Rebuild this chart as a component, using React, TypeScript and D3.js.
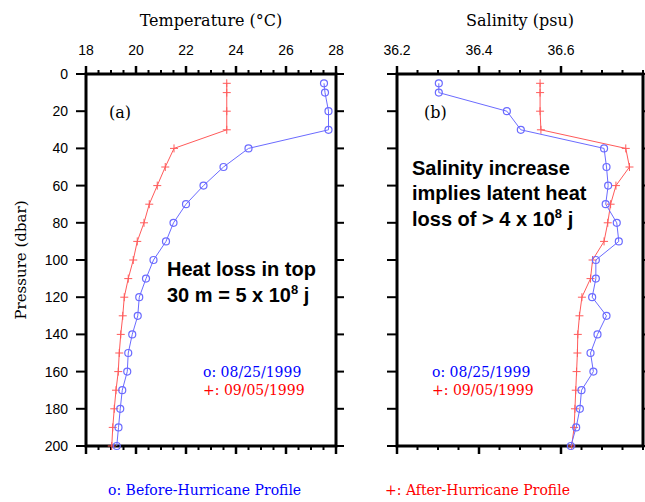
import React from 'react';
import * as d3 from 'd3';

// pressure levels (dbar)
const pressure = [5, 10, 20, 30, 40, 50, 60, 70, 80, 90, 100, 110, 120, 130, 140, 150, 160, 170, 180, 190, 200];

// temperature (deg C)
const tempBefore = [27.52, 27.56, 27.7, 27.7, 24.5, 23.5, 22.7, 22.0, 21.5, 21.2, 20.7, 20.4, 20.13, 20.07, 19.85, 19.69, 19.65, 19.45, 19.37, 19.3, 19.23];
const tempAfter = [23.63, 23.63, 23.63, 23.63, 21.52, 21.17, 20.85, 20.53, 20.32, 20.05, 19.89, 19.69, 19.53, 19.47, 19.39, 19.33, 19.29, 19.2, 19.13, 19.07, 19.03];

// salinity (psu)
const salBefore = [36.302, 36.302, 36.468, 36.502, 36.705, 36.711, 36.715, 36.709, 36.736, 36.741, 36.685, 36.685, 36.676, 36.711, 36.689, 36.672, 36.679, 36.65, 36.646, 36.637, 36.624];
const salAfter = [36.549, 36.549, 36.549, 36.551, 36.758, 36.767, 36.734, 36.721, 36.714, 36.705, 36.677, 36.672, 36.651, 36.645, 36.641, 36.64, 36.638, 36.636, 36.634, 36.632, 36.626];

const tempTicks = [18, 20, 22, 24, 26, 28];
const salTicks = [36.2, 36.4, 36.6];
const pressureTicks = [0, 20, 40, 60, 80, 100, 120, 140, 160, 180, 200];

const BLUE = '#0000ff';
const RED = '#ff0000';
const LBLUE = '#6b6bff';
const LRED = '#ff5a5a';
const serif = '"DejaVu Serif", serif';
const sans = '"Liberation Sans", Arial, sans-serif';

const yScale = d3.scaleLinear().domain([0, 200]).range([74, 446]);

type PanelProps = {
  xScale: d3.ScaleLinear<number, number>;
  majors: number[];
  minorStep: number;
  fmt: (v: number) => string;
  before: number[];
  after: number[];
  title: string;
  yLabels: boolean;
};

const Panel = ({ xScale, majors, minorStep, fmt, before, after, title, yLabels }: PanelProps) => {
  const [x0, x1] = xScale.range();
  const [d0, d1] = xScale.domain();
  const y0 = yScale(0);
  const y1 = yScale(200);
  const minors = d3.range(d0, d1 + minorStep / 2, minorStep);

  const line = (vals: number[]) =>
    d3.line<number>().x((v) => xScale(v)).y((_, i) => yScale(pressure[i]))(vals) || '';

  return (
    <g>
      {/* minor ticks top / bottom */}
      {minors.map((v, i) => (
        <g key={'m' + i} stroke="black" strokeWidth={2}>
          <line x1={xScale(v)} x2={xScale(v)} y1={y0} y2={y0 - 4} />
          <line x1={xScale(v)} x2={xScale(v)} y1={y1} y2={y1 + 4} />
        </g>
      ))}
      {majors.map((v) => (
        <g key={'M' + v}>
          <line x1={xScale(v)} x2={xScale(v)} y1={y0} y2={y0 - 8} stroke="black" strokeWidth={2.5} />
          <line x1={xScale(v)} x2={xScale(v)} y1={y1} y2={y1 + 8} stroke="black" strokeWidth={2.5} />
          <text x={xScale(v)} y={55} textAnchor="middle" fontFamily={sans} fontSize={14}>
            {fmt(v)}
          </text>
        </g>
      ))}
      {/* y ticks */}
      {pressureTicks.map((p) => (
        <g key={'p' + p} stroke="black" strokeWidth={2}>
          <line x1={x0} x2={x0 - 10} y1={yScale(p)} y2={yScale(p)} />
          <line x1={x1} x2={x1 + 8} y1={yScale(p)} y2={yScale(p)} />
        </g>
      ))}
      {yLabels &&
        pressureTicks.map((p) => (
          <text key={'pl' + p} x={68} y={yScale(p)} dy="0.36em" textAnchor="end" fontFamily={sans} fontSize={14}>
            {p}
          </text>
        ))}
      <rect x={x0} y={y0} width={x1 - x0} height={y1 - y0} fill="none" stroke="black" strokeWidth={3} />
      <text x={(x0 + x1) / 2} y={26} textAnchor="middle" fontFamily={serif} fontSize={16}>
        {title}
      </text>

      {/* after profile */}
      <path d={line(after)} fill="none" stroke={LRED} strokeWidth={1} />
      {after.map((v, i) => (
        <g key={'a' + i} stroke={LRED} strokeWidth={1}>
          <line x1={xScale(v) - 4} x2={xScale(v) + 4} y1={yScale(pressure[i])} y2={yScale(pressure[i])} />
          <line x1={xScale(v)} x2={xScale(v)} y1={yScale(pressure[i]) - 4} y2={yScale(pressure[i]) + 4} />
        </g>
      ))}
      {/* before profile */}
      <path d={line(before)} fill="none" stroke={LBLUE} strokeWidth={1} />
      {before.map((v, i) => (
        <circle key={'b' + i} cx={xScale(v)} cy={yScale(pressure[i])} r={3.5} fill="none" stroke={LBLUE} strokeWidth={1.2} />
      ))}
    </g>
  );
};

const Legend = ({ x }: { x: number }) => (
  <g fontFamily={serif} fontSize={14}>
    <text x={x} y={377} fill={BLUE}>o: 08/25/1999</text>
    <text x={x} y={395} fill={RED}>+: 09/05/1999</text>
  </g>
);

export default function App() {
  const xTemp = d3.scaleLinear().domain([18, 28]).range([86, 336]);
  const xSal = d3.scaleLinear().domain([36.2, 36.8]).range([397, 643]);

  return (
    <svg width={645} height={502} style={{ position: 'absolute', left: 0, top: 0, background: 'white' }}>
      <rect width={645} height={502} fill="white" />
      <Panel
        xScale={xTemp}
        majors={tempTicks}
        minorStep={0.5}
        fmt={(v) => String(v)}
        before={tempBefore}
        after={tempAfter}
        title="Temperature (°C)"
        yLabels
      />
      <Panel
        xScale={xSal}
        majors={salTicks}
        minorStep={0.05}
        fmt={(v) => v.toFixed(1)}
        before={salBefore}
        after={salAfter}
        title="Salinity (psu)"
        yLabels={false}
      />
      <text transform="translate(26,260) rotate(-90)" textAnchor="middle" fontFamily={serif} fontSize={15}>
        Pressure (dbar)
      </text>

      <text x={109} y={118} fontFamily={serif} fontSize={16}>(a)</text>
      <text x={424} y={118} fontFamily={serif} fontSize={16}>(b)</text>

      <g fontFamily={sans} fontSize={20} fontWeight="bold">
        <text x={167} y={276}>Heat loss in top</text>
        <text x={167} y={302}>
          30 m = 5 x 10<tspan dy={-8} fontSize={13}>8</tspan>
          <tspan dy={8}> j</tspan>
        </text>
        <text x={412} y={175}>Salinity increase</text>
        <text x={412} y={200}>implies latent heat</text>
        <text x={412} y={226}>
          loss of &gt; 4 x 10<tspan dy={-8} fontSize={13}>8</tspan>
          <tspan dy={8}> j</tspan>
        </text>
      </g>

      <Legend x={203} />
      <Legend x={432} />

      <g fontFamily={serif} fontSize={14}>
        <text x={108} y={495} fill={BLUE}>o: Before-Hurricane Profile</text>
        <text x={385} y={495} fill={RED}>+: After-Hurricane Profile</text>
      </g>
    </svg>
  );
}
